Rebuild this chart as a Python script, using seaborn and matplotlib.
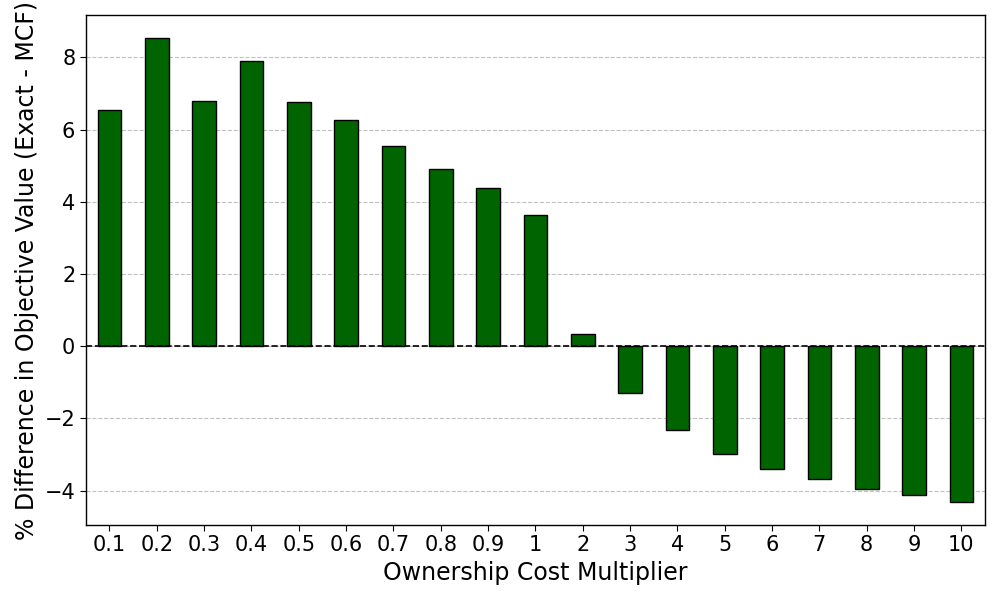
import matplotlib
matplotlib.use("Agg")
import matplotlib.pyplot as plt
import seaborn as sns
import pandas as pd

multipliers = ["0.1", "0.2", "0.3", "0.4", "0.5", "0.6", "0.7", "0.8", "0.9", "1",
               "2", "3", "4", "5", "6", "7", "8", "9", "10"]
pct_diff = [6.55, 8.53, 6.80, 7.89, 6.77, 6.27, 5.54, 4.91, 4.38, 3.64,
            0.34, -1.30, -2.32, -2.99, -3.40, -3.67, -3.95, -4.12, -4.31]

df = pd.DataFrame({"mult": multipliers, "diff": pct_diff})

sns.set_style("white")
plt.rcParams['font.family'] = ['DejaVu Sans']
plt.rcParams.update({"text.color": "black", "axes.labelcolor": "black",
                     "xtick.color": "black", "ytick.color": "black"})

fig, ax = plt.subplots(figsize=(10, 6), dpi=100)
sns.barplot(data=df, x="mult", y="diff", order=multipliers, color="#006400",
            saturation=1, width=0.5, edgecolor="black", linewidth=1, ax=ax, zorder=3)
ax.axhline(0, color="black", linestyle="--", linewidth=1.2, zorder=4)
ax.yaxis.grid(True, linestyle="--", color="#c0c0c0", linewidth=0.8, zorder=0)
ax.set_axisbelow(True)
ax.set_xlim(-0.5, len(multipliers) - 0.5)
rng = max(pct_diff) - min(pct_diff)
ax.set_ylim(min(pct_diff) - 0.05 * rng, max(pct_diff) + 0.05 * rng)
for s in ax.spines.values():
    s.set_visible(True)
    s.set_color("black")
    s.set_linewidth(1)
ax.set_xlabel("Ownership Cost Multiplier", fontsize=17)
ax.set_ylabel("% Difference in Objective Value (Exact - MCF)", fontsize=17)
ax.tick_params(axis="both", labelsize=15, left=True, bottom=True, length=4,
               color="black", labelcolor="black")
plt.tight_layout()
fig.savefig("out.png", dpi=100)
